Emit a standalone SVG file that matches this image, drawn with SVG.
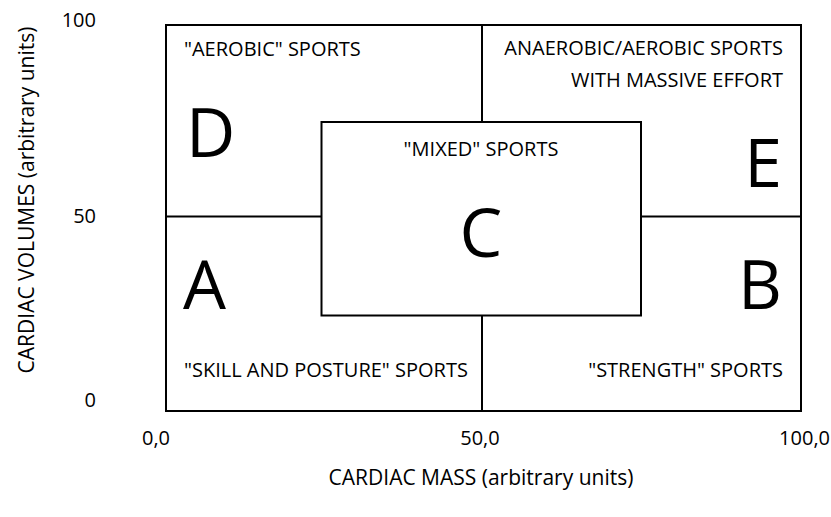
<svg xmlns="http://www.w3.org/2000/svg" width="831" height="517" viewBox="0 0 831 517">
<style>
.ln{stroke:#000;stroke-width:2;fill:none}
.bx{stroke:#000;stroke-width:2;fill:#fff}
.t{font-family:"Open Sans","Liberation Sans",sans-serif;font-size:20px;fill:#000}
.big{font-family:"Open Sans","Liberation Sans",sans-serif;font-size:68px;fill:#000}
.ax{font-family:"Open Sans","Liberation Sans",sans-serif;font-size:20px;fill:#000}
.ttl{font-family:"Open Sans","Liberation Sans",sans-serif;font-size:21px;fill:#000}
</style>
<rect width="831" height="517" fill="#fff"/>
<g id="connectors">
<rect class="ln" x="166" y="25" width="635" height="386"/>
<line class="ln" x1="482" y1="25" x2="482" y2="411"/>
<line class="ln" x1="166" y1="216.5" x2="801" y2="216.5"/>
</g>
<g id="nodeD">
<text class="t" x="184" y="56">"AEROBIC" SPORTS</text>
<text class="big" x="186" y="157">D</text>
</g>
<g id="nodeE">
<text class="t" x="783" y="55" text-anchor="end">ANAEROBIC/AEROBIC SPORTS</text>
<text class="t" x="783" y="87" text-anchor="end">WITH MASSIVE EFFORT</text>
<text class="big" x="782" y="187" text-anchor="end">E</text>
</g>
<g id="nodeC">
<rect class="bx" x="321.5" y="122" width="319.5" height="193.5"/>
<text class="t" x="481" y="156" text-anchor="middle">"MIXED" SPORTS</text>
<text class="big" x="481" y="257" text-anchor="middle">C</text>
</g>
<g id="nodeA">
<text class="big" x="183" y="309">A</text>
<text class="t" x="184" y="377">"SKILL AND POSTURE" SPORTS</text>
</g>
<g id="nodeB">
<text class="big" x="782" y="309" text-anchor="end">B</text>
<text class="t" x="783" y="377" text-anchor="end">"STRENGTH" SPORTS</text>
</g>
<g id="axes">
<text class="ax" x="96" y="27" text-anchor="end">100</text>
<text class="ax" x="96" y="223" text-anchor="end">50</text>
<text class="ax" x="96" y="407" text-anchor="end">0</text>
<text class="ax" x="156" y="445" text-anchor="middle">0,0</text>
<text class="ax" x="480" y="445" text-anchor="middle">50,0</text>
<text class="ax" x="830" y="445" text-anchor="end">100,0</text>
<text class="ttl" x="481" y="485" text-anchor="middle">CARDIAC MASS (arbitrary units)</text>
<text class="ttl" transform="translate(34,200) rotate(-90)" text-anchor="middle">CARDIAC VOLUMES (arbitrary units)</text>
</g>
</svg>
